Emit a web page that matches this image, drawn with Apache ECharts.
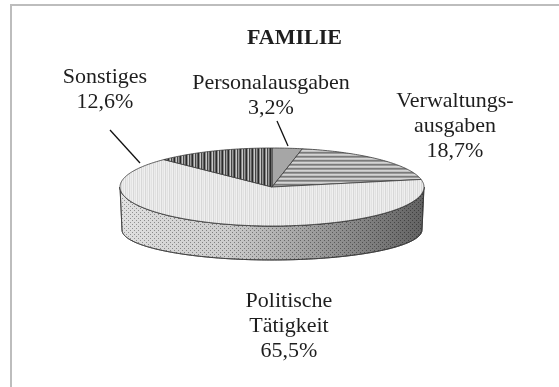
<!DOCTYPE html>
<html>
<head>
<meta charset="utf-8">
<script src="https://cdn.jsdelivr.net/npm/echarts@6/dist/echarts.min.js"></script>
<style>
  html, body { margin: 0; padding: 0; background: #fff; }
  #chart { width: 559px; height: 387px; }
</style>
</head>
<body>
<div id="chart"></div>
<script>
// Budget shares, clockwise from 12 o'clock
const categories = ['Personalausgaben', 'Verwaltungs-\nausgaben', 'Politische\nTätigkeit', 'Sonstiges'];
const shares = [3.2, 18.7, 65.5, 12.6];
const chartTitle = 'FAMILIE';

// Disc geometry (top face ellipse and the smaller bottom rim for perspective)
const disc = { cx: 272, cy: 187, rx: 152, ry: 39, cyb: 230, rxb: 150, ryb: 30 };

// Label anchors (block centres) and leader lines
const labelPos = [
  { x: 271, y: 96, leader: [[277, 121], [288, 146]] },
  { x: 455, y: 126 },
  { x: 289, y: 326 },
  { x: 105, y: 90, leader: [[110, 130], [140, 163]] }
];

function pattern(w, h, draw) {
  const c = document.createElement('canvas');
  c.width = w; c.height = h;
  draw(c.getContext('2d'));
  return { image: c, repeat: 'repeat' };
}
function stripesX(cols) {
  return pattern(cols.length, 1, g => cols.forEach((c, i) => { g.fillStyle = c; g.fillRect(i, 0, 1, 1); }));
}
function stripesY(rows) {
  return pattern(1, rows.length, g => rows.forEach((c, i) => { g.fillStyle = c; g.fillRect(0, i, 1, 1); }));
}

const topFills = [
  '#a6a6a6',
  stripesY(['#7a7a7a', '#989898', '#d4d4d4', '#c0c0c0']),
  stripesX(['#f0f0f0', '#d8d8d8', '#ececec', '#e2e2e2']),
  stripesX(['#2a2a2a', '#858585', '#c8c8c8', '#444444', '#9c9c9c', '#606060'])
];
const sideFill = pattern(4, 4, g => {
  g.fillStyle = '#dedede'; g.fillRect(0, 0, 4, 4);
  g.fillStyle = '#888888'; g.fillRect(0, 0, 1, 1); g.fillRect(2, 2, 1, 1);
});
const sideShade = new echarts.graphic.LinearGradient(0, 0, 1, 0, [
  { offset: 0, color: 'rgba(255,255,255,0.1)' },
  { offset: 0.35, color: 'rgba(0,0,0,0.08)' },
  { offset: 0.65, color: 'rgba(0,0,0,0.3)' },
  { offset: 1, color: 'rgba(0,0,0,0.56)' }
]);

const total = shares.reduce((a, b) => a + b, 0);
const startAngles = [];
shares.reduce((acc, v, i) => { startAngles[i] = acc; return acc + v / total * 360; }, 0);

const rad = d => d * Math.PI / 180;
function topPt(a) { return [disc.cx + disc.rx * Math.sin(rad(a)), disc.cy - disc.ry * Math.cos(rad(a))]; }
function botPt(a) { return [disc.cx + disc.rxb * Math.sin(rad(a)), disc.cyb - disc.ryb * Math.cos(rad(a))]; }
function arc(fn, a, b) {
  const pts = [];
  const n = Math.max(2, Math.ceil(Math.abs(b - a)));
  for (let k = 0; k <= n; k++) pts.push(fn(a + (b - a) * k / n));
  return pts;
}
const pctText = v => v.toFixed(1).replace('.', ',') + '%';

function renderItem(params, api) {
  const i = params.dataIndex;
  const v = api.value(0);
  const a0 = startAngles[i];
  const a1 = a0 + v / total * 360;
  const children = [];

  // front wall, visible between 90° and 270°
  const s0 = Math.max(a0, 90), s1 = Math.min(a1, 270);
  if (s1 > s0) {
    const wall = arc(topPt, s0, s1).concat(arc(botPt, s1, s0));
    children.push({ type: 'polygon', z2: 1, shape: { points: wall },
      style: { fill: sideFill, stroke: '#3a3a3a', lineWidth: 0.8 } });
    children.push({ type: 'polygon', z2: 2, shape: { points: wall },
      style: { fill: sideShade, stroke: '#3a3a3a', lineWidth: 0.8 } });
  }

  // top face sector
  const face = [[disc.cx, disc.cy]].concat(arc(topPt, a0, a1));
  children.push({ type: 'polygon', z2: 3, shape: { points: face },
    style: { fill: topFills[i], stroke: '#3a3a3a', lineWidth: 0.8 } });

  // label
  const lp = labelPos[i];
  children.push({ type: 'text', z2: 5,
    style: { text: categories[i] + '\n' + pctText(v), x: lp.x, y: lp.y,
      align: 'center', verticalAlign: 'middle', lineHeight: 25,
      font: '22px "Liberation Serif"', fill: '#1e1e1e' } });
  if (lp.leader) {
    children.push({ type: 'line', z2: 5,
      shape: { x1: lp.leader[0][0], y1: lp.leader[0][1], x2: lp.leader[1][0], y2: lp.leader[1][1] },
      style: { stroke: '#111', lineWidth: 1.3 } });
  }
  return { type: 'group', children };
}

const chart = echarts.init(document.getElementById('chart'), null, { renderer: 'canvas' });
chart.setOption({
  backgroundColor: '#fff',
  animation: false,
  title: {
    text: chartTitle, left: 247, top: 27, padding: 0,
    textStyle: { fontFamily: 'Liberation Serif', fontWeight: 'bold', fontSize: 22, color: '#1e1e1e' }
  },
  graphic: [{
    type: 'rect', shape: { x: 11, y: 5, width: 700, height: 600 },
    style: { fill: null, stroke: '#bdbdbd', lineWidth: 2 }, silent: true
  }],
  series: [{
    type: 'custom',
    coordinateSystem: 'none',
    data: shares,
    renderItem: renderItem
  }]
});
</script>
</body>
</html>
